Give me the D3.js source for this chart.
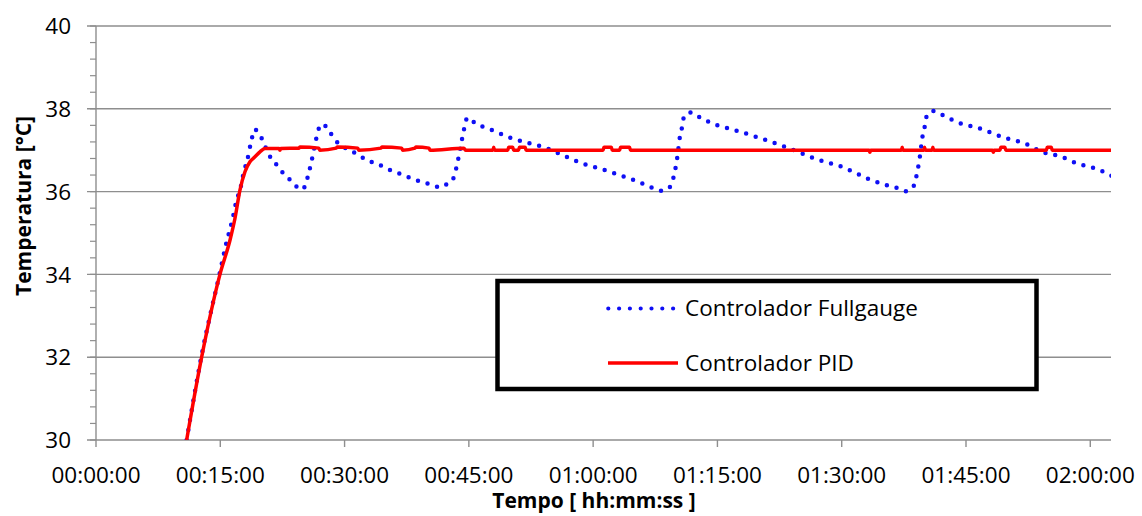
<!DOCTYPE html>
<html lang="pt">
<head>
	<meta charset="utf-8"/>
	<title>Temperatura - Controlador Fullgauge x PID</title>
	<script src="https://d3js.org/d3.v7.min.js"></script>
	<style>
		body { margin: 0; background: #fff; }
		svg { display: block; font-family: "Open Sans", sans-serif; }
	</style>
</head>
<body>
<script>
// data (time in minutes, temperature in °C)
	var fullgaugeTime = [10.94, 12.7, 14.9, 15.77, 16.45, 16.98, 17.38, 17.9, 18.26, 18.5, 18.79, 19.1, 19.79, 20.31, 20.84, 21.6, 22.24, 23.09, 23.98, 24.94,
		25.42, 25.74, 26.03, 26.27, 26.55, 26.83, 27.35, 28.24, 28.92, 29.84, 30.86, 31.86, 32.87, 33.99, 35.0, 36.08, 39.34, 40.42, 41.55, 42.27,
		43.08, 43.72, 44.2, 44.85, 45.73, 47.9, 50.04, 52.25, 54.38, 56.55, 58.68, 60.9, 62.87, 65.04, 67.17, 68.3, 69.18, 69.67, 70.15, 70.47,
		70.75, 70.99, 71.84, 72.89, 75.02, 76.99, 80.33, 83.59, 86.85, 90.14, 93.32, 95.53, 96.66, 97.74, 98.59, 98.99, 99.43, 99.76, 100.04, 100.28,
		101.0, 102.05, 104.18, 106.43, 109.81, 112.06, 114.19, 116.41, 118.54, 120.76, 122.77];
	var fullgaugeTemp = [30.0, 32.0, 34.0, 34.79, 35.31, 35.8, 36.04, 36.52, 36.76, 37.0, 37.26, 37.5, 37.37, 37.14, 36.9, 36.7, 36.52, 36.36, 36.16, 36.05,
		36.26, 36.5, 36.75, 36.99, 37.25, 37.49, 37.63, 37.43, 37.23, 37.08, 36.98, 36.86, 36.74, 36.67, 36.56, 36.48, 36.23, 36.17, 36.1, 36.17,
		36.3, 36.79, 37.29, 37.79, 37.66, 37.48, 37.3, 37.17, 37.05, 36.86, 36.68, 36.55, 36.42, 36.27, 36.09, 36.02, 36.09, 36.32, 36.82, 37.32,
		37.57, 37.83, 37.91, 37.79, 37.6, 37.49, 37.28, 37.05, 36.79, 36.59, 36.3, 36.15, 36.09, 36.01, 36.1, 36.35, 36.84, 37.34, 37.59, 37.84,
		37.95, 37.86, 37.66, 37.54, 37.29, 37.17, 36.96, 36.85, 36.67, 36.55, 36.36];

	var pidTime = [10.94, 12.75, 14.96, 16.2, 16.77, 17.38, 17.98, 18.58, 19.19, 19.79, 20.4, 22.1, 22.2, 22.3, 24.5, 24.6, 26.9, 27.0, 29.0, 29.1,
		31.6, 31.7, 34.4, 34.5, 36.9, 37.0, 38.5, 38.6, 40.2, 40.3, 44.4, 44.6, 47.9, 48.0, 48.1, 49.7, 49.8, 50.3, 50.4, 51.0, 51.1, 51.8, 51.9,
		61.2, 61.3, 62.2, 62.3, 63.2, 63.3, 64.4, 64.5, 93.3, 93.4, 93.5, 97.2, 97.3, 97.4, 99.9, 100.0, 100.1, 100.9, 101.0, 101.1,
		108.2, 108.3, 108.4, 109.1, 109.2, 109.7, 109.8, 114.7, 114.8, 115.3, 115.4, 122.5];
	var pidTemp = [30.0, 32.0, 34.0, 34.85, 35.35, 36.04, 36.48, 36.72, 36.84, 36.96, 37.04, 37.04, 37.0, 37.04, 37.05, 37.08, 37.05, 37.0, 37.05, 37.08,
		37.05, 37.0, 37.05, 37.08, 37.05, 37.0, 37.05, 37.08, 37.05, 37.0, 37.05, 37.0, 37.0, 37.07, 37.0, 37.0, 37.07, 37.07, 37.0, 37.0, 37.07, 37.07, 37.0,
		37.0, 37.07, 37.07, 37.0, 37.0, 37.07, 37.07, 37.0, 37.0, 36.95, 37.0, 37.0, 37.07, 37.0, 37.0, 37.07, 37.0, 37.0, 37.07, 37.0,
		37.0, 36.95, 37.0, 37.0, 37.07, 37.07, 37.0, 37.0, 37.07, 37.07, 37.0, 37.0];

	var xTicks = [0, 15, 30, 45, 60, 75, 90, 105, 120]; // minutes
	var yTicks = [30, 32, 34, 36, 38, 40];
	var yMinorTicks = d3.range(30, 40.01, 0.4);
	var seriesNames = ["Controlador Fullgauge", "Controlador PID"];

// svg size and plot area (no "top" name: it clashes with window.top)
	var w = 1142;
	var h = 516;
	var plotLeft = 96, plotRight = 1111, plotTop = 26, plotBottom = 440;
	var gridColor = "#8e8e8e";

	var xScale = d3.scaleLinear()
				.domain([0, 122.5])
				.range([plotLeft, plotRight]);

	var yScale = d3.scaleLinear()
				.domain([30, 40])
				.range([plotBottom, plotTop]);

	var svg = d3.select("body")
				.append("svg")
				.attr("width", w)
				.attr("height", h);

// format minutes as hh:mm:ss
	function fmt(m) {
		var hh = Math.floor(m / 60), mm = Math.floor(m % 60);
		return d3.format("02")(hh) + ":" + d3.format("02")(mm) + ":00";
	}

// horizontal gridlines (they also act as major y ticks)
	svg.selectAll(".grid")
		.data(yTicks)
		.enter()
		.append("line")
		.attr("x1", plotLeft - 9)
		.attr("x2", plotRight)
		.attr("y1", function(d) {return yScale(d);})
		.attr("y2", function(d) {return yScale(d);})
		.attr("stroke", gridColor)
		.attr("stroke-width", 1.4);

// minor ticks on the y axis
	svg.selectAll(".minor")
		.data(yMinorTicks)
		.enter()
		.append("line")
		.attr("x1", plotLeft - 6)
		.attr("x2", plotLeft)
		.attr("y1", function(d) {return yScale(d);})
		.attr("y2", function(d) {return yScale(d);})
		.attr("stroke", gridColor)
		.attr("stroke-width", 1.2);

// y axis line
	svg.append("line")
		.attr("x1", plotLeft).attr("x2", plotLeft)
		.attr("y1", plotTop).attr("y2", plotBottom)
		.attr("stroke", gridColor)
		.attr("stroke-width", 1.4);

// x ticks
	svg.selectAll(".xtick")
		.data(xTicks)
		.enter()
		.append("line")
		.attr("x1", function(d) {return xScale(d);})
		.attr("x2", function(d) {return xScale(d);})
		.attr("y1", plotBottom)
		.attr("y2", plotBottom + 7)
		.attr("stroke", gridColor)
		.attr("stroke-width", 1.4);

// tick labels
	svg.selectAll(".ylabel")
		.data(yTicks)
		.enter()
		.append("text")
		.attr("x", 71)
		.attr("y", function(d) {return yScale(d);})
		.attr("dy", "0.36em")
		.attr("text-anchor", "end")
		.attr("font-size", "22.5px")
		.attr("fill", "#000")
		.text(function(d) {return d;});

	svg.selectAll(".xlabel")
		.data(xTicks)
		.enter()
		.append("text")
		.attr("x", function(d) {return xScale(d);})
		.attr("y", 483)
		.attr("text-anchor", "middle")
		.attr("font-size", "22.5px")
		.attr("fill", "#000")
		.text(function(d) {return fmt(d);});

// axis titles
	svg.append("text")
		.attr("x", 594)
		.attr("y", 508)
		.attr("text-anchor", "middle")
		.attr("font-size", "21px")
		.attr("font-weight", "bold")
		.text("Tempo [ hh:mm:ss ]");

	svg.append("text")
		.attr("transform", "translate(31,206) rotate(-90)")
		.attr("text-anchor", "middle")
		.attr("font-size", "21px")
		.attr("font-weight", "bold")
		.text("Temperatura [°C]");

// clip the series to the plot area
	svg.append("clipPath")
		.attr("id", "plot")
		.append("rect")
		.attr("x", plotLeft).attr("y", plotTop - 5)
		.attr("width", plotRight - plotLeft).attr("height", plotBottom - plotTop + 5);

	var line = d3.line()
				.x(function(d) {return xScale(d[0]);})
				.y(function(d) {return yScale(d[1]);})
				.curve(d3.curveMonotoneX);

	var fullgauge = d3.zip(fullgaugeTime, fullgaugeTemp);
	var pid = d3.zip(pidTime, pidTemp);

	var plot = svg.append("g").attr("clip-path", "url(#plot)");

	plot.append("path")
		.attr("d", line(fullgauge))
		.attr("fill", "none")
		.attr("stroke", "#0f0ff5")
		.attr("stroke-width", 4.5)
		.attr("stroke-linecap", "round")
		.attr("stroke-dasharray", "0 10");

	plot.append("path")
		.attr("d", line(pid))
		.attr("fill", "none")
		.attr("stroke", "#ff0000")
		.attr("stroke-width", 3.5)
		.attr("stroke-linejoin", "round");

// legend box
	var legend = svg.append("g");

	legend.append("rect")
		.attr("x", 497.5)
		.attr("y", 281)
		.attr("width", 539)
		.attr("height", 108)
		.attr("fill", "#fff")
		.attr("stroke", "#000")
		.attr("stroke-width", 4.5);

	legend.append("line")
		.attr("x1", 608.3).attr("x2", 674)
		.attr("y1", 308.5).attr("y2", 308.5)
		.attr("stroke", "#0f0ff5")
		.attr("stroke-width", 4.2)
		.attr("stroke-linecap", "round")
		.attr("stroke-dasharray", "0 10.8");

	legend.append("line")
		.attr("x1", 608).attr("x2", 678)
		.attr("y1", 363).attr("y2", 363)
		.attr("stroke", "#ff0000")
		.attr("stroke-width", 3.5);

	legend.selectAll(".ltext")
		.data(seriesNames)
		.enter()
		.append("text")
		.attr("x", 685)
		.attr("y", function(d, i) {return i == 0 ? 316 : 371;})
		.attr("font-size", "22.5px")
		.attr("fill", "#000")
		.text(function(d) {return d;});
</script>
</body>
</html>
